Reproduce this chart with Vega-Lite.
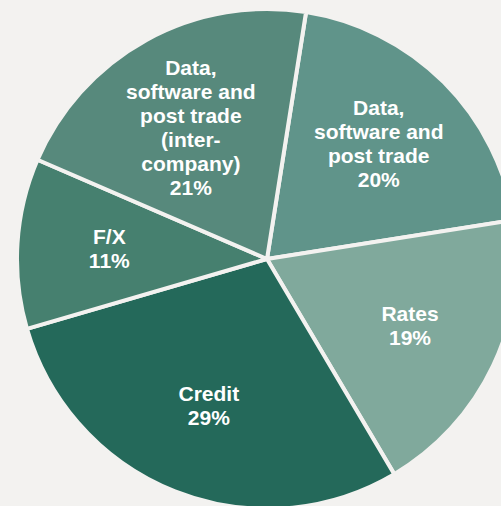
{
  "$schema": "https://vega.github.io/schema/vega-lite/v6.json",
  "width": 534,
  "height": 518,
  "padding": 0,
  "autosize": {"type": "none"},
  "background": "#f3f2f0",
  "config": {"view": {"stroke": null}},
  "data": {
    "values": [
      {"i": 1, "segment": "Data, software and post trade", "label": "Data,\nsoftware and\npost trade\n20%", "lines": 4, "pct": 20},
      {"i": 2, "segment": "Rates", "label": "Rates\n19%", "lines": 2, "pct": 19},
      {"i": 3, "segment": "Credit", "label": "Credit\n29%", "lines": 2, "pct": 29},
      {"i": 4, "segment": "F/X", "label": "F/X\n11%", "lines": 2, "pct": 11},
      {"i": 5, "segment": "Data, software and post trade (inter-company)", "label": "Data,\nsoftware and\npost trade\n(inter-\ncompany)\n21%", "lines": 6, "pct": 21}
    ]
  },
  "encoding": {
    "theta": {"field": "pct", "type": "quantitative", "stack": true, "scale": {"range": [0.157, 6.440]}},
    "order": {"field": "i", "type": "quantitative", "sort": "ascending"}
  },
  "layer": [
    {
      "mark": {"type": "arc", "outerRadius": 250, "stroke": "#f3f2f0", "strokeWidth": 4},
      "encoding": {
        "color": {
          "field": "segment",
          "type": "nominal",
          "legend": null,
          "scale": {
            "domain": ["Data, software and post trade", "Rates", "Credit", "F/X", "Data, software and post trade (inter-company)"],
            "range": ["#60948a", "#80a99c", "#24695a", "#46806f", "#57897c"]
          }
        }
      }
    },
    {
      "mark": {"type": "text", "radius": 158, "dy": -11, "lineBreak": "\n", "font": "Liberation Sans", "fontWeight": "bold", "fontSize": 21, "lineHeight": 24, "fill": "#ffffff", "align": "center", "baseline": "middle"},
      "encoding": {
        "text": {"condition": {"test": {"field": "lines", "equal": 2}, "field": "label"}, "value": ""}
      }
    },
    {
      "mark": {"type": "text", "radius": 158, "dy": -38, "lineBreak": "\n", "font": "Liberation Sans", "fontWeight": "bold", "fontSize": 21, "lineHeight": 24, "fill": "#ffffff", "align": "center", "baseline": "middle"},
      "encoding": {
        "text": {"condition": {"test": {"field": "lines", "equal": 4}, "field": "label"}, "value": ""}
      }
    },
    {
      "mark": {"type": "text", "radius": 158, "dy": -52, "lineBreak": "\n", "font": "Liberation Sans", "fontWeight": "bold", "fontSize": 21, "lineHeight": 24, "fill": "#ffffff", "align": "center", "baseline": "middle"},
      "encoding": {
        "text": {"condition": {"test": {"field": "lines", "equal": 6}, "field": "label"}, "value": ""}
      }
    }
  ]
}
